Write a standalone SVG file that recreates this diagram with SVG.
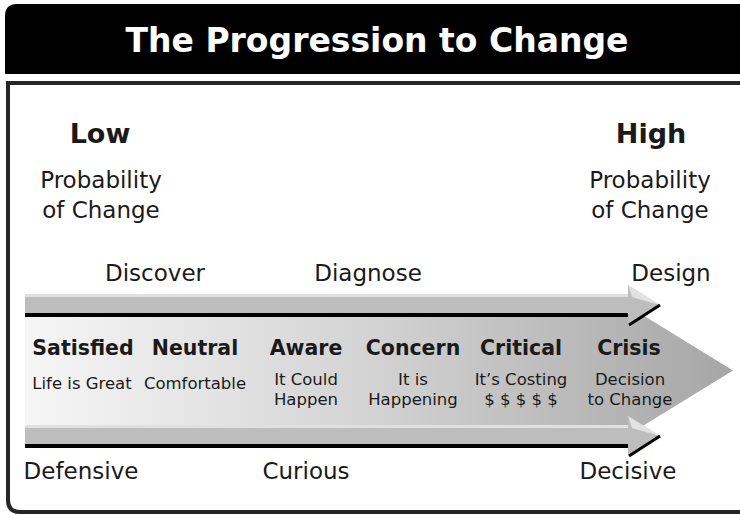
<svg xmlns="http://www.w3.org/2000/svg" width="740" height="515" viewBox="0 0 740 515">
<defs>
<linearGradient id="bodyGrad" gradientUnits="userSpaceOnUse" x1="25" y1="0" x2="733" y2="0">
<stop offset="0" stop-color="#f6f6f6"/>
<stop offset="0.5" stop-color="#d2d2d2"/>
<stop offset="1" stop-color="#a6a6a6"/>
</linearGradient>
<g id="band">
<rect x="25" y="0" width="603" height="23" fill="#bdbdbd"/>
<rect x="25" y="0" width="603" height="3" fill="#e0e0e0"/>
<rect x="25" y="19" width="603" height="4" fill="#000"/>
<polygon points="628,-9 660,11 628,31" fill="#bdbdbd"/>
<polygon points="628,-9 660,11 632,3" fill="#e2e2e2"/>
<line x1="660" y1="11" x2="629" y2="31" stroke="#000" stroke-width="3"/>
</g>
</defs>
<style>
.title{font-family:"DejaVu Sans",sans-serif;font-weight:bold;font-size:33px;fill:#fff;text-anchor:middle}
.big{font-family:"DejaVu Sans",sans-serif;font-weight:bold;font-size:27px;fill:#1a1a1a;text-anchor:middle}
.reg{font-family:"DejaVu Sans",sans-serif;font-size:23px;fill:#1a1a1a;text-anchor:middle}
.lab{font-family:"DejaVu Sans",sans-serif;font-weight:bold;font-size:20.5px;fill:#1a1a1a;text-anchor:middle}
.sub{font-family:"DejaVu Sans",sans-serif;font-size:16.5px;fill:#1a1a1a;text-anchor:middle}
</style>
<g id="header">
<path d="M5,16 Q5,4 17,4 H740 V74 H5 Z" fill="#000"/>
<text class="title" x="377" y="52">The Progression to Change</text>
</g>
<g id="frame">
<path d="M8,83 H750 V500 Q750,512 738,512 H20 Q8,512 8,500 Z" fill="#fff" stroke="#262626" stroke-width="4"/>
</g>
<g id="low">
<text class="big" x="100" y="143">Low</text>
<text class="reg" x="101" y="188">Probability</text>
<text class="reg" x="101" y="218">of Change</text>
</g>
<g id="high">
<text class="big" x="651" y="143">High</text>
<text class="reg" x="650" y="188">Probability</text>
<text class="reg" x="650" y="218">of Change</text>
</g>
<g id="phases">
<text class="reg" x="155" y="281">Discover</text>
<text class="reg" x="368" y="281">Diagnose</text>
<text class="reg" x="671" y="281">Design</text>
</g>
<g id="connectors">
<path d="M25,315 H628 V306 L733,370.5 L628,435 V426 H25 Z" fill="url(#bodyGrad)"/>
<use href="#band" y="294"/>
<use href="#band" y="425"/>
</g>
<g id="satisfied"><text class="lab" x="83" y="355">Satisfied</text><text class="sub" x="82" y="389">Life is Great</text></g>
<g id="neutral"><text class="lab" x="195" y="355">Neutral</text><text class="sub" x="195" y="389">Comfortable</text></g>
<g id="aware"><text class="lab" x="306" y="355">Aware</text><text class="sub" x="306" y="385">It Could</text><text class="sub" x="306" y="405">Happen</text></g>
<g id="concern"><text class="lab" x="413" y="355">Concern</text><text class="sub" x="413" y="385">It is</text><text class="sub" x="413" y="405">Happening</text></g>
<g id="critical"><text class="lab" x="521" y="355">Critical</text><text class="sub" x="521" y="385">It’s Costing</text><text class="sub" x="521" y="405">$ $ $ $ $</text></g>
<g id="crisis"><text class="lab" x="629" y="355">Crisis</text><text class="sub" x="630" y="385">Decision</text><text class="sub" x="630" y="405">to Change</text></g>
<g id="attitudes">
<text class="reg" x="81" y="479">Defensive</text>
<text class="reg" x="306" y="479">Curious</text>
<text class="reg" x="628" y="479">Decisive</text>
</g>
</svg>
